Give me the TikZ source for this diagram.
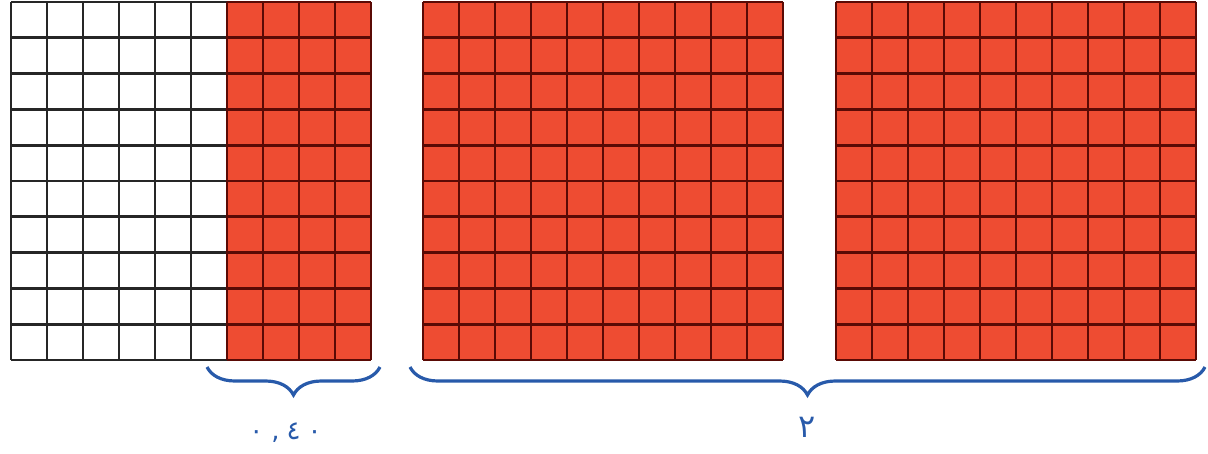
\documentclass[tikz,border=0pt]{standalone}
\usepackage{fontspec}
\usetikzlibrary{decorations.pathreplacing}
\newfontfamily\arabicfont[Script=Arabic]{DejaVu Sans}
\definecolor{cellred}{RGB}{238,76,50}
\definecolor{cellline}{RGB}{90,10,5}
\definecolor{bracecol}{RGB}{40,90,170}

\begin{document}
\begin{tikzpicture}[x=1pt, y=-1pt]
  \tikzset{
  grid_pic/.pic={
    % red squares
    \fill[cellred] (0,0) rectangle (360,358);

    % grid lines
    \foreach \i in {0,...,10} {
      \draw[cellline, line width=2.8pt] (36*\i,0) -- (36*\i,358);
      \draw[cellline, line width=2.8pt] (0,35.8*\i) -- (360,35.8*\i);
    }

    % characteristic coordinates of grid
    \coordinate (-oo) at (0,0);
    \coordinate (-bl) at (0,358);
    \coordinate (-br) at (360,358);
  },
  bluebrace/.style={draw=bracecol, line width=3.2pt, decorate,
    decoration={brace, mirror, amplitude=28pt}},
  numlabel/.style={text=bracecol, font=\arabicfont\fontsize{26}{30}\selectfont}
}
  \useasboundingbox (0,0) rectangle (1208,453);

  % grids
  \pic (grid_a) at (11,2) {grid_pic};
  \pic (grid_b) at (423,2) {grid_pic};
  \pic (grid_c) at (836,2) {grid_pic};

  % white part of first grid
  \begin{scope}[shift={(grid_a-oo)}]
    \fill[white] (0,0) rectangle (216,358);
    \foreach \i in {0,...,5}
      \draw[black!85, line width=2.8pt] (36*\i,0) -- (36*\i,358);
    \foreach \j in {0,...,10}
      \draw[black!85, line width=2.8pt] (0,35.8*\j) -- (216,35.8*\j);
    \draw[cellline, line width=2.8pt] (216,0) -- (216,358);
    \coordinate (grid_a-split) at (216,358);
  \end{scope}

  % braces
  \coordinate (brace_a_l) at ([xshift=-20pt, yshift=-7pt]grid_a-split);
  \coordinate (brace_a_r) at ([xshift=9pt, yshift=-7pt]grid_a-br);
  \coordinate (brace_b_l) at ([xshift=-13pt, yshift=-7pt]grid_b-bl);
  \coordinate (brace_b_r) at ([xshift=9pt, yshift=-7pt]grid_c-br);

  \draw[bluebrace] (brace_a_l) -- (brace_a_r);
  \draw[bluebrace] (brace_b_l) -- (brace_b_r);

  % labels
  \path (brace_a_l) -- node[numlabel, xshift=-8pt, yshift=-66pt] (label_a)
    {٠\hspace{8pt},\hspace{7pt}٤\hspace{7pt}٠} (brace_a_r);
  \path (brace_b_l) -- node[numlabel,
    font=\arabicfont\fontsize{32}{36}\selectfont,
    yshift=-60pt] (label_b) {٢} (brace_b_r);
\end{tikzpicture}
\end{document}
